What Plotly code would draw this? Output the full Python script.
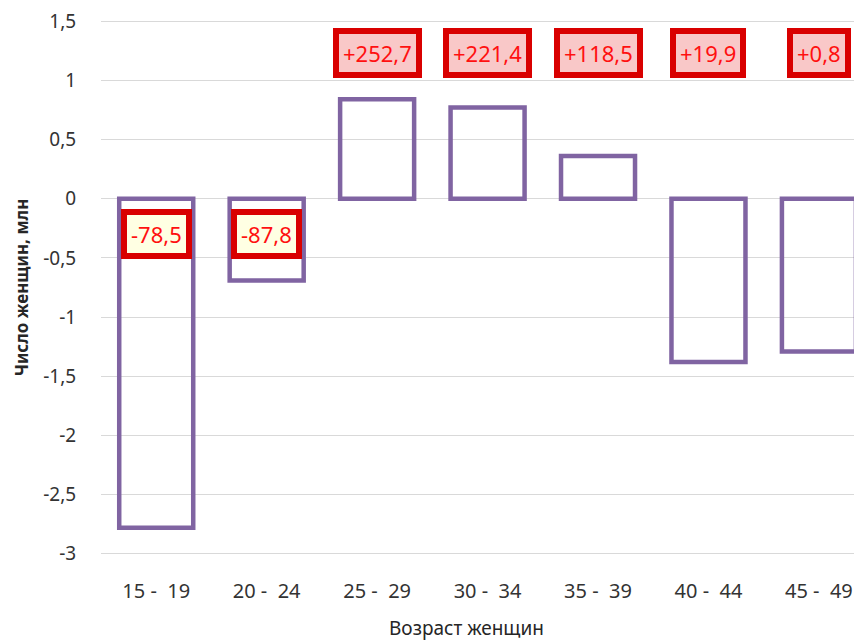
import plotly.graph_objects as go

categories = ["15 -\u00a0 19", "20 -\u00a0 24", "25 -\u00a0 29", "30 -\u00a0 34",
              "35 -\u00a0 39", "40 -\u00a0 44", "45 -\u00a0 49"]
values = [-2.78, -0.69, 0.84, 0.77, 0.36, -1.38, -1.29]
change_labels = ["-78,5", "-87,8", "+252,7", "+221,4", "+118,5", "+19,9", "+0,8"]
label_y = [-0.30, -0.30, 1.23, 1.23, 1.23, 1.23, 1.23]
label_fill = ["#FFFFE3", "#FFFFE3", "#F9C8C8", "#F9C8C8", "#F9C8C8", "#F9C8C8", "#F9C8C8"]
y_ticks = [1.5, 1, 0.5, 0, -0.5, -1, -1.5, -2, -2.5, -3]
y_tick_text = ["1,5", "1", "0,5", "0", "-0,5", "-1", "-1,5", "-2", "-2,5", "-3"]

FONT = "Noto Sans"

fig = go.Figure()
fig.add_trace(go.Bar(
    x=categories, y=values, width=0.67,
    marker=dict(color="rgba(0,0,0,0)", line=dict(color="#8064A2", width=4.5)),
    hoverinfo="skip",
))

annotations = []
for c, t, y, f in zip(categories, change_labels, label_y, label_fill):
    annotations.append(dict(
        x=c, y=y, xref="x", yref="y", text=t, showarrow=False,
        font=dict(family=FONT, size=22, color="#FF1010"),
        bgcolor=f, bordercolor="#D90000",
        borderwidth=6, borderpad=4,
    ))
annotations.append(dict(
    x=0.48, y=-0.165, xref="paper", yref="paper", text="Возраст женщин",
    showarrow=False, font=dict(family=FONT, size=19, color="#262626"),
    xanchor="center", yanchor="bottom",
))

fig.update_layout(
    width=854, height=636,
    margin=dict(l=93, r=0, t=12, b=89),
    paper_bgcolor="white", plot_bgcolor="white",
    showlegend=False,
    annotations=annotations,
    font=dict(family=FONT),
)
fig.update_xaxes(
    range=[-0.5, 6.39], showgrid=False, zeroline=False, showline=False,
    automargin=False,
    ticks="outside", ticklen=18, tickcolor="rgba(0,0,0,0)",
    tickfont=dict(family=FONT, size=20, color="#333333"),
)
fig.update_yaxes(
    range=[-3.01, 1.51], tickvals=y_ticks, ticktext=y_tick_text,
    showgrid=True, gridcolor="#D9D9D9", gridwidth=1.3,
    zeroline=False, showline=False, automargin=False,
    ticks="outside", ticklen=20, tickcolor="rgba(0,0,0,0)",
    ticklabeloverflow="allow",
    tickfont=dict(family=FONT, size=19, color="#333333"),
    title=dict(text="<b>Число женщин, млн</b>", standoff=10,
               font=dict(family=FONT, size=17, color="#262626")),
)

fig.write_html("out.html")
